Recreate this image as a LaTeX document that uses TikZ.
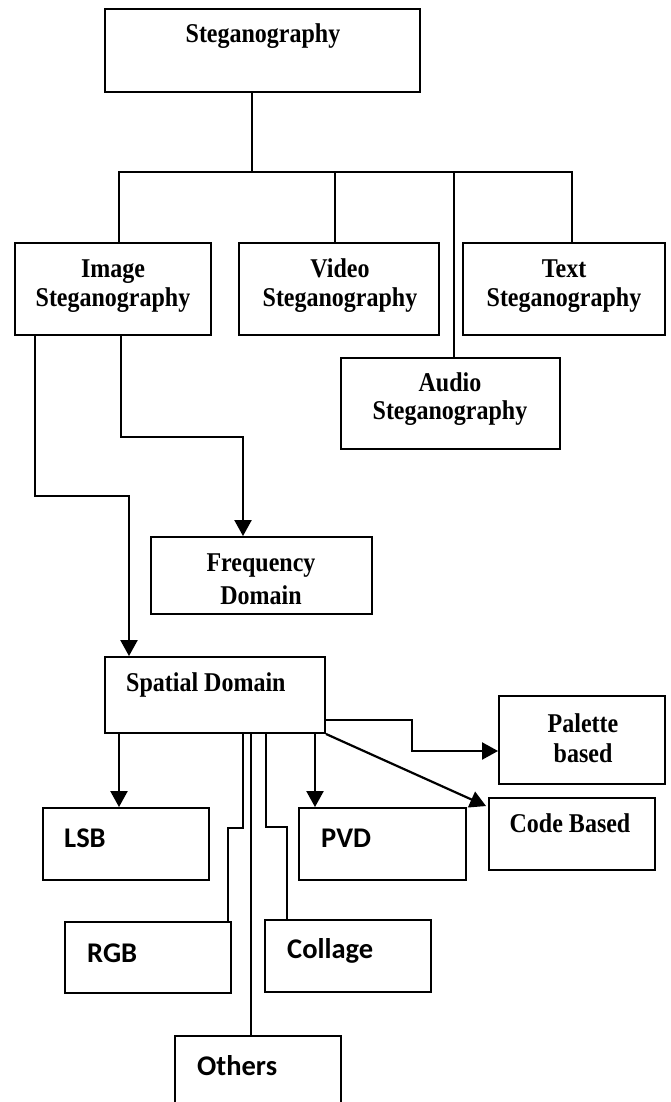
\documentclass[tikz,border=0pt]{standalone}
\usepackage{fontspec}
\setmainfont{Liberation Serif}
\newfontfamily\calfont{Carlito}
\usetikzlibrary{arrows.meta}
\newcommand{\tall}[1]{\scalebox{1}[1.13]{#1}}

\begin{document}
\begin{tikzpicture}[x=1pt,y=-1pt,
  box/.style={draw, line width=1.9pt, inner sep=0pt, rectangle},
  ser/.style={font=\fontsize{24}{29}\selectfont\bfseries, inner sep=0pt, anchor=base},
  cal/.style={font=\calfont\fontsize{28.5}{32}\selectfont\bfseries, inner sep=0pt, anchor=base west},
  conn/.style={line width=1.6pt},
  arr/.style={line width=2.2pt, -{Triangle[length=16pt,width=17pt]}}
]
\useasboundingbox (0,0) rectangle (671,1102);

% boxes
\node[box, minimum width=315pt, minimum height=83pt] (steg) at (262.5,50.5) {};
\node[box, minimum width=196pt, minimum height=92pt] (img) at (113,289) {};
\node[box, minimum width=200pt, minimum height=92pt] (vid) at (339,289) {};
\node[box, minimum width=202pt, minimum height=92pt] (txt) at (564,289) {};
\node[box, minimum width=219pt, minimum height=91pt] (aud) at (450.5,403.5) {};
\node[box, minimum width=221pt, minimum height=77pt] (freq) at (261.5,575.5) {};
\node[box, minimum width=220pt, minimum height=76pt] (spat) at (215,695) {};
\node[box, minimum width=166pt, minimum height=88pt] (pal) at (582,740) {};
\node[box, minimum width=166pt, minimum height=72pt] (code) at (572,834) {};
\node[box, minimum width=166pt, minimum height=72pt] (lsb) at (126,844) {};
\node[box, minimum width=167pt, minimum height=72pt] (pvd) at (382.5,844) {};
\node[box, minimum width=166pt, minimum height=71pt] (rgb) at (148,957.5) {};
\node[box, minimum width=166pt, minimum height=72pt] (coll) at (348,956) {};
\node[box, minimum width=166pt, minimum height=72pt] (oth) at (258,1072) {};

% texts
\node[ser] (stegT) at (263,43) {\tall{Steganography}};
\node[ser] (imgT1) at (113,277) {\tall{Image}};
\node[ser] (imgT2) at (113,306) {\tall{Steganography}};
\node[ser] (vidT1) at (340,277) {\tall{Video}};
\node[ser] (vidT2) at (340,306) {\tall{Steganography}};
\node[ser] (txtT1) at (564,277) {\tall{Text}};
\node[ser] (txtT2) at (564,306) {\tall{Steganography}};
\node[ser] (audT1) at (450,391) {\tall{Audio}};
\node[ser] (audT2) at (450,419) {\tall{Steganography}};
\node[ser] (freqT1) at (261,571) {\tall{Frequency}};
\node[ser] (freqT2) at (261,604) {\tall{Domain}};
\node[ser, anchor=base west] (spatT) at (126,691) {\tall{Spatial Domain}};
\node[ser] (palT1) at (583,732) {\tall{Palette}};
\node[ser] (palT2) at (583,762) {\tall{based}};
\node[ser] (codeT) at (570,832) {\tall{Code Based}};
\node[cal] (lsbT) at (64,847) {LSB};
\node[cal] (pvdT) at (321,847) {PVD};
\node[cal] (rgbT) at (87,962) {RGB};
\node[cal] (collT) at (287,958) {Collage};
\node[cal] (othT) at (197,1075) {Others};

% junction coordinates
\coordinate (j0) at (252,172);
\coordinate (barL) at (119,172);
\coordinate (barR) at (572,172);
\coordinate (vx) at (335,172);
\coordinate (ax) at (454,172);
\coordinate (a1) at (35,496);
\coordinate (a2) at (129,496);
\coordinate (b1) at (121,437);
\coordinate (b2) at (243,437);
\coordinate (c1) at (119,770);
\coordinate (d1) at (243,828);
\coordinate (d2) at (228,828);
\coordinate (e1) at (251,900);
\coordinate (f1) at (266,827);
\coordinate (f2) at (287,827);
\coordinate (g1) at (315,770);
\coordinate (h1) at (412,720);
\coordinate (h2) at (412,751);

% top tree
\draw[conn] (steg.south -| j0) -- (j0);
\draw[conn] (img.north -| barL) -- (barL) -- (barR) -- (txt.north -| barR);
\draw[conn] (vx) -- (vid.north -| vx);
\draw[conn] (ax) -- (aud.north -| ax);

% image steganography branches
\draw[arr] (img.south -| a1) -- (a1) -- (a2) -- (spat.north -| a2);
\draw[arr] (img.south -| b1) -- (b1) -- (b2) -- (freq.north -| b2);

% spatial domain branches
\draw[arr] (spat.south -| c1) -- (lsb.north -| c1);
\draw[arr] (spat.south -| g1) -- (pvd.north -| g1);
\draw[conn] (spat.south -| d1) -- (d1) -- (d2) -- (rgb.north -| d2);
\draw[conn] (spat.south -| e1) -- (oth.north -| e1);
\draw[conn] (spat.south -| f1) -- (f1) -- (f2) -- (coll.north -| f2);
\draw[arr] (spat.east |- h1) -- (h1) -- (h2) -- (pal.west |- h2);
\draw[arr] (spat.south east) -- ([shift={(-2pt,-9pt)}]code.north west);
\end{tikzpicture}
\end{document}
